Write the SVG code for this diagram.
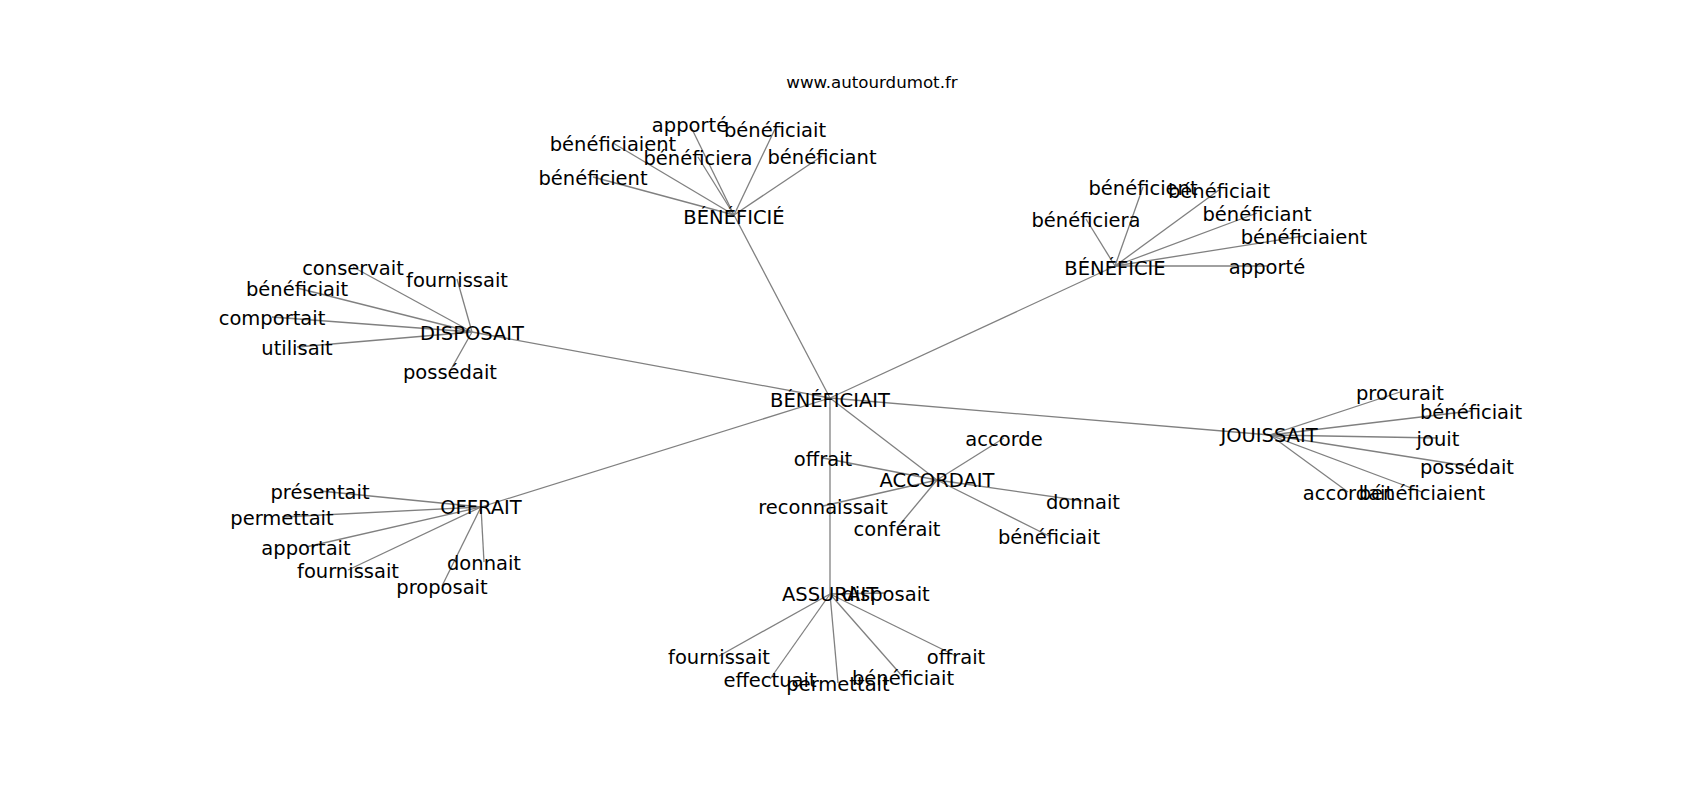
<svg xmlns="http://www.w3.org/2000/svg" width="1700" height="800" viewBox="0 0 1700 800">
<style>
.e{stroke:#808080;stroke-width:1.3;fill:none}
text{font-family:"DejaVu Sans",sans-serif;font-size:19.5px;fill:#000;text-anchor:middle}
.t{font-size:16.67px}
</style>
<rect width="1700" height="800" fill="#fff"/>
<g id="connectors">
<line class="e" x1="830" y1="398" x2="734" y2="215"/>
<line class="e" x1="830" y1="398" x2="1115" y2="266"/>
<line class="e" x1="830" y1="398" x2="472" y2="332"/>
<line class="e" x1="830" y1="398" x2="481" y2="507"/>
<line class="e" x1="830" y1="398" x2="1270" y2="435"/>
<line class="e" x1="830" y1="398" x2="937" y2="480"/>
<line class="e" x1="830" y1="398" x2="830" y2="594"/>
<line class="e" x1="734" y1="215" x2="690" y2="125"/>
<line class="e" x1="734" y1="215" x2="775" y2="129"/>
<line class="e" x1="734" y1="215" x2="613" y2="143"/>
<line class="e" x1="734" y1="215" x2="698" y2="157"/>
<line class="e" x1="734" y1="215" x2="822" y2="156"/>
<line class="e" x1="734" y1="215" x2="593" y2="177"/>
<line class="e" x1="1115" y1="266" x2="1143" y2="187"/>
<line class="e" x1="1115" y1="266" x2="1219" y2="190"/>
<line class="e" x1="1115" y1="266" x2="1086" y2="219"/>
<line class="e" x1="1115" y1="266" x2="1257" y2="213"/>
<line class="e" x1="1115" y1="266" x2="1304" y2="236"/>
<line class="e" x1="1115" y1="266" x2="1267" y2="266"/>
<line class="e" x1="472" y1="332" x2="353" y2="267"/>
<line class="e" x1="472" y1="332" x2="457" y2="279"/>
<line class="e" x1="472" y1="332" x2="297" y2="288"/>
<line class="e" x1="472" y1="332" x2="272" y2="317"/>
<line class="e" x1="472" y1="332" x2="297" y2="347"/>
<line class="e" x1="472" y1="332" x2="450" y2="371"/>
<line class="e" x1="937" y1="480" x2="1004" y2="438"/>
<line class="e" x1="937" y1="480" x2="823" y2="458"/>
<line class="e" x1="937" y1="480" x2="823" y2="506"/>
<line class="e" x1="937" y1="480" x2="1083" y2="501"/>
<line class="e" x1="937" y1="480" x2="897" y2="528"/>
<line class="e" x1="937" y1="480" x2="1049" y2="536"/>
<line class="e" x1="481" y1="507" x2="320" y2="491"/>
<line class="e" x1="481" y1="507" x2="282" y2="517"/>
<line class="e" x1="481" y1="507" x2="306" y2="547"/>
<line class="e" x1="481" y1="507" x2="348" y2="570"/>
<line class="e" x1="481" y1="507" x2="484" y2="562"/>
<line class="e" x1="481" y1="507" x2="442" y2="586"/>
<line class="e" x1="830" y1="594" x2="886" y2="593"/>
<line class="e" x1="830" y1="594" x2="719" y2="656"/>
<line class="e" x1="830" y1="594" x2="956" y2="656"/>
<line class="e" x1="830" y1="594" x2="770" y2="679"/>
<line class="e" x1="830" y1="594" x2="838" y2="683"/>
<line class="e" x1="830" y1="594" x2="903" y2="677"/>
<line class="e" x1="1270" y1="435" x2="1400" y2="392"/>
<line class="e" x1="1270" y1="435" x2="1471" y2="411"/>
<line class="e" x1="1270" y1="435" x2="1438" y2="438"/>
<line class="e" x1="1270" y1="435" x2="1467" y2="466"/>
<line class="e" x1="1270" y1="435" x2="1348" y2="492"/>
<line class="e" x1="1270" y1="435" x2="1422" y2="492"/>
</g>
<text class="t" x="872" y="88">www.autourdumot.fr</text>
<g id="nodes" transform="translate(0,1.5)">
<g id="n-beneficiait-center"><text x="830" y="405">BÉNÉFICIAIT</text></g>
<g id="n-beneficie-acc"><text x="734" y="222">BÉNÉFICIÉ</text></g>
<g id="n1-apporte"><text x="690" y="130">apporté</text></g>
<g id="n1-beneficiait"><text x="775" y="135">bénéficiait</text></g>
<g id="n1-beneficiaient"><text x="613" y="149">bénéficiaient</text></g>
<g id="n1-beneficiera"><text x="698" y="163">bénéficiera</text></g>
<g id="n1-beneficiant"><text x="822" y="162">bénéficiant</text></g>
<g id="n1-beneficient"><text x="593" y="183">bénéficient</text></g>
<g id="n-beneficie"><text x="1115" y="273">BÉNÉFICIE</text></g>
<g id="n2-beneficient"><text x="1143" y="193">bénéficient</text></g>
<g id="n2-beneficiait"><text x="1219" y="196">bénéficiait</text></g>
<g id="n2-beneficiera"><text x="1086" y="225">bénéficiera</text></g>
<g id="n2-beneficiant"><text x="1257" y="219">bénéficiant</text></g>
<g id="n2-beneficiaient"><text x="1304" y="242">bénéficiaient</text></g>
<g id="n2-apporte"><text x="1267" y="272">apporté</text></g>
<g id="n-disposait"><text x="472" y="338">DISPOSAIT</text></g>
<g id="n3-conservait"><text x="353" y="273">conservait</text></g>
<g id="n3-fournissait"><text x="457" y="285">fournissait</text></g>
<g id="n3-beneficiait"><text x="297" y="294">bénéficiait</text></g>
<g id="n3-comportait"><text x="272" y="323">comportait</text></g>
<g id="n3-utilisait"><text x="297" y="353">utilisait</text></g>
<g id="n3-possedait"><text x="450" y="377">possédait</text></g>
<g id="n-accordait"><text x="937" y="485">ACCORDAIT</text></g>
<g id="n4-accorde"><text x="1004" y="444">accorde</text></g>
<g id="n4-offrait"><text x="823" y="464">offrait</text></g>
<g id="n4-reconnaissait"><text x="823" y="512">reconnaissait</text></g>
<g id="n4-donnait"><text x="1083" y="507">donnait</text></g>
<g id="n4-conferait"><text x="897" y="534">conférait</text></g>
<g id="n4-beneficiait"><text x="1049" y="542">bénéficiait</text></g>
<g id="n-offrait"><text x="481" y="512">OFFRAIT</text></g>
<g id="n5-presentait"><text x="320" y="497">présentait</text></g>
<g id="n5-permettait"><text x="282" y="523">permettait</text></g>
<g id="n5-apportait"><text x="306" y="553">apportait</text></g>
<g id="n5-fournissait"><text x="348" y="576">fournissait</text></g>
<g id="n5-donnait"><text x="484" y="568">donnait</text></g>
<g id="n5-proposait"><text x="442" y="592">proposait</text></g>
<g id="n-assurait"><text x="830" y="599">ASSURAIT</text></g>
<g id="n6-disposait"><text x="886" y="599">disposait</text></g>
<g id="n6-fournissait"><text x="719" y="662">fournissait</text></g>
<g id="n6-offrait"><text x="956" y="662">offrait</text></g>
<g id="n6-effectuait"><text x="770" y="685">effectuait</text></g>
<g id="n6-permettait"><text x="838" y="689">permettait</text></g>
<g id="n6-beneficiait"><text x="903" y="683">bénéficiait</text></g>
<g id="n-jouissait"><text x="1269" y="440">JOUISSAIT</text></g>
<g id="n7-procurait"><text x="1400" y="398">procurait</text></g>
<g id="n7-beneficiait"><text x="1471" y="417">bénéficiait</text></g>
<g id="n7-jouit"><text x="1438" y="444">jouit</text></g>
<g id="n7-possedait"><text x="1467" y="472">possédait</text></g>
<g id="n7-accordait"><text x="1348" y="498">accordait</text></g>
<g id="n7-beneficiaient"><text x="1422" y="498">bénéficiaient</text></g>
</g>
</svg>
